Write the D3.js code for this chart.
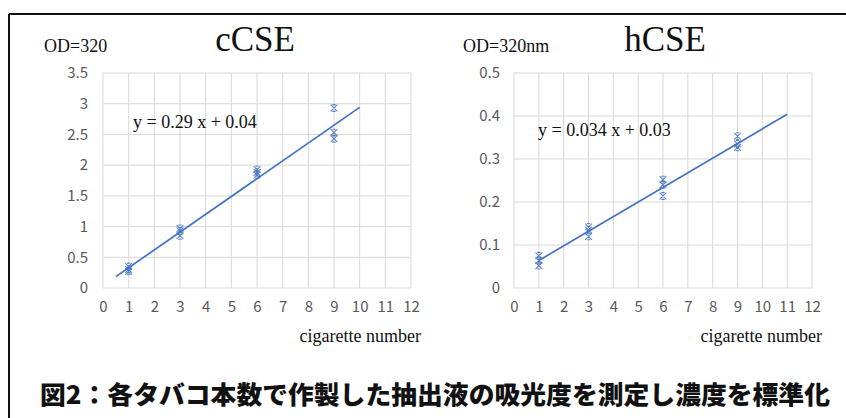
<!DOCTYPE html>
<html>
<head>
<meta charset="utf-8">
<script src="https://cdn.jsdelivr.net/npm/d3@7"></script>
<style>
  html, body { margin: 0; padding: 0; background: #fff; }
  svg { display: block; }
</style>
</head>
<body>
<svg id="fig" width="846" height="418"></svg>
<script>
// Cigarette counts used for each extract
const cigaretteCounts = [1, 3, 6, 9];

// cCSE absorbance readings (OD 320), three replicates per count
const ccseValues = [
  [0.35, 0.30, 0.27],
  [0.97, 0.93, 0.85],
  [1.93, 1.88, 1.84],
  [2.93, 2.53, 2.43]
];
// hCSE absorbance readings (OD 320 nm)
const hcseValues = [
  [0.075, 0.064, 0.052],
  [0.142, 0.135, 0.120],
  [0.252, 0.240, 0.214],
  [0.353, 0.335, 0.327]
];

// Linear fits shown on each panel
const ccseFit = { slope: 0.29, intercept: 0.04, from: 0.5, to: 10 };
const hcseFit = { slope: 0.034, intercept: 0.03, from: 1, to: 11 };

const xTicks = [0, 1, 2, 3, 4, 5, 6, 7, 8, 9, 10, 11, 12];
const ccseYTicks = [0, 0.5, 1, 1.5, 2, 2.5, 3, 3.5];
const hcseYTicks = [0, 0.1, 0.2, 0.3, 0.4, 0.5];

const caption = "図2：各タバコ本数で作製した抽出液の吸光度を測定し濃度を標準化";

const svg = d3.select("#fig");
const blue = "#4472C4";
const grid = "#d9d9d9";
const tickColor = "#595959";
const serif = "'Liberation Serif', 'Times New Roman', serif";
const sans = "'Noto Sans CJK JP', 'Noto Sans', sans-serif";

// outer frame: top and left rule
svg.append("line").attr("x1", 9).attr("x2", 846).attr("y1", 14).attr("y2", 14)
  .attr("stroke", "#111").attr("stroke-width", 2);
svg.append("line").attr("x1", 9).attr("x2", 9).attr("y1", 14).attr("y2", 418)
  .attr("stroke", "#111").attr("stroke-width", 2);

// x-shaped marker with short caps top and bottom
function marker(g, cx, cy) {
  const s = 3.4;
  g.append("path")
    .attr("d", `M${cx - s},${cy - s}L${cx + s},${cy + s}M${cx + s},${cy - s}L${cx - s},${cy + s}` +
               `M${cx - s * 0.5},${cy - s}L${cx + s * 0.5},${cy - s}M${cx - s * 0.5},${cy + s}L${cx + s * 0.5},${cy + s}`)
    .attr("fill", "none").attr("stroke", blue).attr("stroke-width", 1.1).attr("opacity", 0.85);
}

function panel(opt) {
  const x = d3.scaleLinear().domain([0, 12]).range([opt.left, opt.right]);
  const y = d3.scaleLinear().domain([0, opt.yMax]).range([288, 73]);
  const g = svg.append("g");

  // gridlines
  g.append("g").selectAll("line").data(xTicks).join("line")
    .attr("x1", d => x(d)).attr("x2", d => x(d)).attr("y1", y(0)).attr("y2", y(opt.yMax))
    .attr("stroke", grid).attr("stroke-width", 1);
  g.append("g").selectAll("line").data(opt.yTicks).join("line")
    .attr("x1", x(0)).attr("x2", x(12)).attr("y1", d => y(d)).attr("y2", d => y(d))
    .attr("stroke", grid).attr("stroke-width", 1);

  // axes (labels only; gridlines carry the lines)
  const xAxis = g.append("g").attr("transform", `translate(0,${y(0)})`)
    .call(d3.axisBottom(x).tickValues(xTicks).tickSize(0).tickPadding(13).tickFormat(d3.format("d")));
  const yAxis = g.append("g").attr("transform", `translate(${x(0)},0)`)
    .call(d3.axisLeft(y).tickValues(opt.yTicks).tickSize(0).tickPadding(opt.yPad).tickFormat(d => String(d)));
  [xAxis, yAxis].forEach(a => {
    a.select(".domain").remove();
    a.selectAll("text").attr("fill", tickColor).style("font-family", sans).style("font-size", "15px");
  });

  // fit line
  const f = opt.fit;
  g.append("line")
    .attr("x1", x(f.from)).attr("y1", y(f.slope * f.from + f.intercept))
    .attr("x2", x(f.to)).attr("y2", y(f.slope * f.to + f.intercept))
    .attr("stroke", blue).attr("stroke-width", 1.7);

  // replicate markers
  cigaretteCounts.forEach((c, i) => {
    opt.values[i].forEach(v => marker(g, x(c), y(v)));
  });

  // texts
  g.append("text").attr("x", opt.odX).attr("y", 52).text(opt.odLabel)
    .style("font-family", serif).style("font-size", "18px").attr("fill", "#111");
  g.append("text").attr("x", opt.titleX).attr("y", 51).attr("text-anchor", "middle").text(opt.title)
    .style("font-family", serif).style("font-size", "35px").attr("fill", "#111");
  g.append("text").attr("x", opt.eqX).attr("y", opt.eqY).text(opt.eq)
    .style("font-family", serif).style("font-size", "18px").attr("fill", "#111");
  g.append("text").attr("x", opt.xLabelRight).attr("y", 342).attr("text-anchor", "end").text("cigarette number")
    .style("font-family", serif).style("font-size", "18px").attr("fill", "#111");
}

panel({
  left: 103, right: 411, yMax: 3.5, yTicks: ccseYTicks, yPad: 15,
  values: ccseValues, fit: ccseFit,
  odLabel: "OD=320", odX: 44, title: "cCSE", titleX: 255,
  eq: `y = ${ccseFit.slope} x + ${ccseFit.intercept}`, eqX: 133, eqY: 128,
  xLabelRight: 421
});
panel({
  left: 514, right: 812, yMax: 0.5, yTicks: hcseYTicks, yPad: 14,
  values: hcseValues, fit: hcseFit,
  odLabel: "OD=320nm", odX: 463, title: "hCSE", titleX: 665,
  eq: `y = ${hcseFit.slope} x + ${hcseFit.intercept}`, eqX: 538, eqY: 136,
  xLabelRight: 822
});

// caption
svg.append("text").attr("x", 40).attr("y", 404).text(caption)
  .attr("textLength", 790).attr("lengthAdjust", "spacingAndGlyphs")
  .style("font-family", sans).style("font-weight", "900").style("font-size", "25.5px").attr("fill", "#111");
</script>
</body>
</html>
